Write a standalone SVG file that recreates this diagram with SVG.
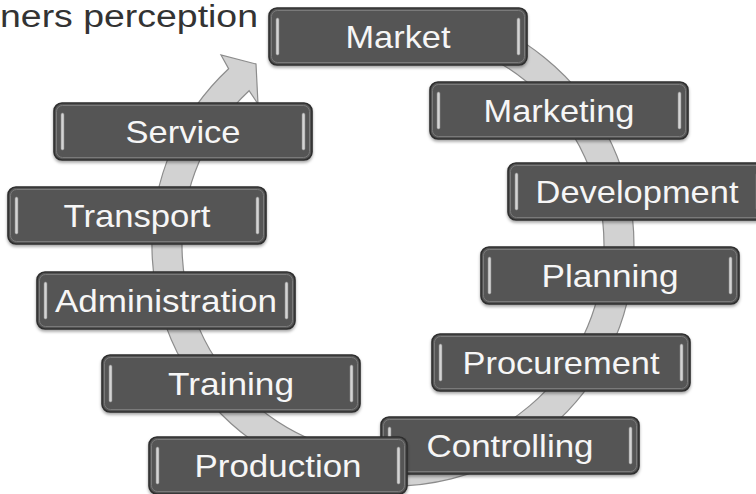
<svg xmlns="http://www.w3.org/2000/svg" width="756" height="494" viewBox="0 0 756 494">
<style>
.box{fill:#545454;stroke:#2e2e2e;stroke-width:1.6}
.inner{fill:none;stroke:#7a7a7a;stroke-width:1}
.bar{fill:#d4d4d4;stroke:#8a8a8a;stroke-width:0.6}
.lbl{font-family:"Liberation Sans",Arial,sans-serif;font-size:32px;fill:#f6f6f6;text-anchor:middle}
.title{font-family:"Liberation Sans",Arial,sans-serif;font-size:31px;fill:#333333}
.band{fill:#d2d2d2;stroke:#8c8c8c;stroke-width:1.2;stroke-linejoin:miter}
</style>
<defs>
<filter id="sh" x="-10%" y="-20%" width="120%" height="150%">
<feDropShadow dx="0" dy="2" stdDeviation="1.6" flood-color="#000" flood-opacity="0.35"/>
</filter>
<g id="boxshape">
<rect class="box" x="0" y="0" width="258" height="57" rx="8" filter="url(#sh)"/>
<rect class="inner" x="2.5" y="2.5" width="253" height="52" rx="6"/>
<rect class="bar" x="7" y="10" width="3" height="37" rx="1.5"/>
<rect class="bar" x="248" y="10" width="3" height="37" rx="1.5"/>
</g>
</defs>
<rect width="756" height="494" fill="#ffffff"/>
<text class="title" x="0" y="27" textLength="258" lengthAdjust="spacingAndGlyphs">ners perception</text>
<g id="connectors">
<path class="band" d="M455.4,12.2 A241,241 0 1 1 228.6,68.7 L221,55 L256,64 L258,104 L249.1,90.7 A211,211 0 1 0 447.6,41.2 Z"/>
</g>
<g id="market" transform="translate(269,8)"><use href="#boxshape"/><text class="lbl" x="129" y="40" textLength="105" lengthAdjust="spacingAndGlyphs">Market</text></g>
<g id="marketing" transform="translate(430,82)"><use href="#boxshape"/><text class="lbl" x="129" y="40" textLength="151" lengthAdjust="spacingAndGlyphs">Marketing</text></g>
<g id="development" transform="translate(508,163)"><use href="#boxshape"/><text class="lbl" x="129" y="40" textLength="203" lengthAdjust="spacingAndGlyphs">Development</text></g>
<g id="planning" transform="translate(481,247)"><use href="#boxshape"/><text class="lbl" x="129" y="40" textLength="137" lengthAdjust="spacingAndGlyphs">Planning</text></g>
<g id="procurement" transform="translate(432,334)"><use href="#boxshape"/><text class="lbl" x="129" y="40" textLength="197" lengthAdjust="spacingAndGlyphs">Procurement</text></g>
<g id="controlling" transform="translate(381,417)"><use href="#boxshape"/><text class="lbl" x="129" y="40" textLength="167" lengthAdjust="spacingAndGlyphs">Controlling</text></g>
<g id="production" transform="translate(149,437)"><use href="#boxshape"/><text class="lbl" x="129" y="40" textLength="167" lengthAdjust="spacingAndGlyphs">Production</text></g>
<g id="training" transform="translate(102,355)"><use href="#boxshape"/><text class="lbl" x="129" y="40" textLength="126" lengthAdjust="spacingAndGlyphs">Training</text></g>
<g id="administration" transform="translate(37,272)"><use href="#boxshape"/><text class="lbl" x="129" y="40" textLength="222" lengthAdjust="spacingAndGlyphs">Administration</text></g>
<g id="transport" transform="translate(8,187)"><use href="#boxshape"/><text class="lbl" x="129" y="40" textLength="147" lengthAdjust="spacingAndGlyphs">Transport</text></g>
<g id="service" transform="translate(54,103)"><use href="#boxshape"/><text class="lbl" x="129" y="40" textLength="115" lengthAdjust="spacingAndGlyphs">Service</text></g>
</svg>
